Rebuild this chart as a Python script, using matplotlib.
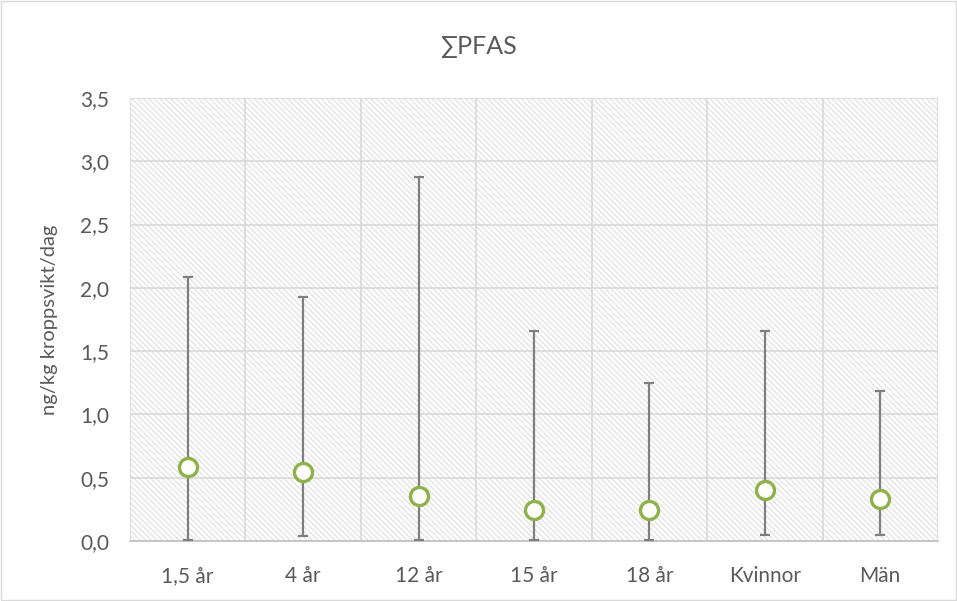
import numpy as np
import matplotlib
matplotlib.use("Agg")
from matplotlib import pyplot as plt
from matplotlib.patches import Rectangle

categories = ["1,5 år", "4 år", "12 år", "15 år", "18 år", "Kvinnor", "Män"]
mean = [0.585, 0.545, 0.355, 0.245, 0.245, 0.40, 0.33]
upper = [2.085, 1.93, 2.875, 1.66, 1.25, 1.66, 1.185]
lower = [0.01, 0.04, 0.01, 0.01, 0.005, 0.05, 0.05]

plt.rcParams['font.family'] = ['Lato', 'DejaVu Sans']
plt.rcParams['hatch.linewidth'] = 0.9

txt = '#595959'
grid = '#d9d9d9'

fig = plt.figure(figsize=(9.57, 6.01), dpi=100)
ax = fig.add_axes([0.1358, 0.0998, 0.8443, 0.7372])

x = np.arange(len(categories))
m = np.array(mean)
yerr = np.vstack([m - np.array(lower), np.array(upper) - m])

# hatched plot area
ax.add_patch(Rectangle((0, 0), 1, 1, transform=ax.transAxes, facecolor='white',
                       edgecolor='#e2e2e2', linewidth=0, hatch='\\' * 6, zorder=0))

ax.errorbar(x, m, yerr=yerr, fmt='none', ecolor='#7f7f7f', elinewidth=1.6,
            capsize=3.6, capthick=1.6, zorder=3)
ax.plot(x, m, linestyle='none', marker='o', markersize=13, markerfacecolor='white',
        markeredgecolor='#8fb14b', markeredgewidth=2.4, zorder=4)

ax.set_xlim(-0.5, len(categories) - 0.5)
ax.set_ylim(0, 3.5)
ax.set_yticks(np.arange(0, 3.51, 0.5))
ax.set_yticklabels([f"{v:.1f}".replace('.', ',') for v in np.arange(0, 3.51, 0.5)])
ax.set_xticks(x)
ax.set_xticklabels(categories)
ax.set_xticks(np.arange(-0.5, len(categories)), minor=True)
ax.grid(True, axis='y', which='major', color=grid, linewidth=1.2, zorder=1)
ax.grid(True, axis='x', which='minor', color=grid, linewidth=1.2, zorder=1)
ax.set_axisbelow(True)
ax.tick_params(which='both', length=0, colors=txt, labelsize=15)
ax.tick_params(axis='x', pad=18)
ax.tick_params(axis='y', pad=15)
for s in ['top', 'right', 'left']:
    ax.spines[s].set_visible(False)
ax.spines['bottom'].set_color('#bfbfbf')
ax.spines['bottom'].set_linewidth(1.2)

ax.set_ylabel("ng/kg kroppsvikt/dag", color=txt, fontsize=14.5, labelpad=16)
fig.text(0.5, 0.922, "∑PFAS", ha='center', va='center', color=txt, fontsize=18)

fig.add_artist(Rectangle((0.001, 0.001), 0.998, 0.998, transform=fig.transFigure,
                         fill=False, edgecolor='#d9d9d9', linewidth=1))

plt.savefig("out.png", dpi=100)
